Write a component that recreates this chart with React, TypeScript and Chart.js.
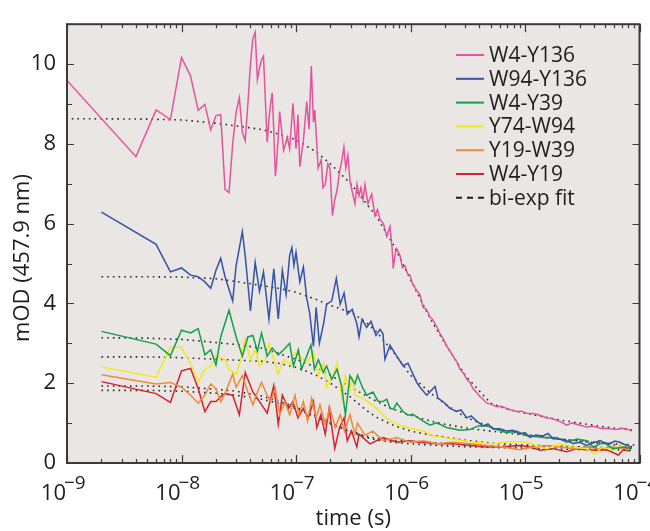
import React, { useEffect, useRef } from "react";
import { Chart, registerables } from "chart.js";

Chart.register(...registerables);

// ---------- DATA (times in ns, values in mOD) ----------
const w4y136T = [1,4,6,8,10,12,14,16,18,20,22,24,26,28,30,32,34,36,38,40,42,44,46,48,50,52,56,58,60,62,64,66,68,70,72,78,84,88,94,100,104,108,116,124,130,136,142,146,156,166,172,180,190,198,208,218,228,240,252,262,272,284,296,310,327,341,355,369,385,400,425,458,489,515,542,580,620,662,690,707,730,758,810,850,894,940,990,1040,1095,1150,1210,1290,1380,1480,1560,1640,1720,1810,1940,2070,2200,2350,2520,2710,2900,3100,3300,3520,3750,4050,4300,4630,5100,5660,6200,6920,7600,8450,9300,10350,11500,12650,14000,15500,17000,18900,21000,23100,25500,28300,31000,34600,38500,42300,47000,51700,57000,63200,70000,77300,85400];
const w4y136V = [9.59,7.68,8.85,8.61,10.17,9.7,8.84,8.99,8.35,8.71,8.73,6.86,6.78,8.0,8.8,9.16,8.29,8.08,9.0,10.0,10.64,10.8,9.61,9.9,10.1,10.2,8.04,8.6,9.0,9.28,8.3,7.19,7.6,8.2,8.81,7.84,8.16,7.88,9.02,7.88,8.73,7.43,8.08,9.06,8.37,9.95,8.54,8.85,7.39,7.6,6.9,6.98,7.5,7.39,6.2,6.6,6.83,7.3,7.6,7.92,7.4,7.71,7.07,6.8,6.5,6.98,6.7,6.9,6.6,6.98,6.5,6.74,6.2,6.35,6.1,6.0,5.68,5.93,5.4,4.88,5.2,5.37,5.2,4.9,4.95,4.75,4.71,4.5,4.39,4.3,4.22,3.9,3.85,3.66,3.6,3.49,3.38,3.24,3.1,2.93,2.82,2.68,2.55,2.35,2.25,2.1,2.02,1.86,1.78,1.66,1.6,1.5,1.47,1.41,1.42,1.37,1.33,1.29,1.3,1.25,1.24,1.22,1.18,1.13,1.12,1.07,1.02,0.95,1.0,0.97,0.94,0.9,0.92,0.9,0.86,0.87,0.85,0.84,0.87,0.86,0.8];

const w94y136T = [2,6,8,10,12,14,16,18,20,22,24,28,30,34,36,40,44,48,52,58,64,70,76,82,88,92,96,100,108,116,124,132,142,150,160,174,185,205,225,243,263,280,310,340,355,377,414,452,500,542,575,598,662,758,860,950,1133,1210,1385,1640,1740,1920,2070,2210,2530,2760,3100,3380,3790,4290,4750,5260,6050,6920,7860,9040,10000,11060,12480,14360,15900,17570,20200,23100,26300,30200,34600,39300,45200,50000,55300,61200,67600,73300,79400,85400];
const w94y136V = [6.29,5.48,4.79,4.89,4.71,4.67,4.54,4.38,4.83,5.13,4.67,4.06,4.95,5.8,5.2,3.81,5.03,4.3,4.79,3.61,4.87,3.61,4.83,4.22,5.2,5.4,4.95,5.28,4.54,4.91,4.14,3.73,2.92,3.9,3.0,3.49,3.98,4.06,4.63,3.98,4.26,3.73,3.85,3.49,3.16,3.6,3.4,3.55,3.2,3.35,3.24,2.6,2.95,2.68,2.44,2.5,2.02,1.9,1.7,1.92,1.62,1.54,1.45,1.37,1.29,1.33,1.13,1.18,1.05,0.93,0.98,0.85,0.86,0.8,0.82,0.73,0.76,0.64,0.7,0.68,0.74,0.61,0.6,0.56,0.49,0.52,0.44,0.5,0.56,0.5,0.49,0.55,0.52,0.47,0.44,0.37];

const w4y39T = [2,6,8,10,12,14,16,18,20,22,26,30,34,38,42,46,50,56,62,70,78,88,95,105,112,124,135,145,157,173,185,205,228,250,270,296,327,345,380,414,470,520,575,620,662,710,758,800,860,950,1050,1290,1480,1690,2070,2710,3310,3910,4630,5660,6920,8450,10350,12650,15500,18900,23100,28300,34600,39500,48300,59000,72000,85400];
const w4y39V = [3.3,2.98,2.69,3.33,3.26,3.37,2.71,2.84,2.46,3.16,3.83,3.16,2.68,3.16,3.2,2.8,3.26,2.68,2.88,2.71,2.84,3.0,2.43,2.84,2.35,2.68,2.96,2.35,2.59,2.27,2.43,2.1,2.35,1.94,1.21,2.19,1.98,2.2,1.9,1.7,1.78,1.55,1.54,1.6,1.37,1.35,1.5,1.42,1.29,1.2,1.22,1.05,0.95,1.01,0.89,0.82,0.84,0.93,0.93,0.84,0.76,0.8,0.68,0.66,0.63,0.64,0.52,0.6,0.56,0.4,0.52,0.36,0.4,0.36];

const y74w94T = [2,6,8,10,12,14,16,18,20,24,26,30,33,36,40,44,48,54,58,62,70,78,88,98,108,124,142,157,174,185,210,228,252,270,296,310,330,385,440,506,580,662,800,927,1290,1570,2350,3520,5260,7860,10350,13520,15500,20200,26300,34600,40900,46800,59000,72000,82700];
const y74w94V = [2.41,2.15,2.9,2.9,2.5,2.02,2.35,2.43,2.68,2.59,2.35,2.23,2.59,3.12,2.59,2.84,2.43,2.59,3.0,2.71,2.23,2.59,2.47,2.76,2.68,2.51,2.8,2.19,2.51,1.9,2.19,2.51,1.6,2.2,1.86,2.1,1.7,1.62,1.5,1.37,1.2,1.05,0.95,0.89,0.8,0.68,0.6,0.52,0.48,0.54,0.52,0.4,0.36,0.48,0.4,0.36,0.22,0.4,0.32,0.48,0.4];

const y19w39T = [2,6,8,10,12,14,16,18,20,22,24,28,30,34,38,42,46,50,56,60,66,72,80,88,98,106,116,126,137,150,162,180,198,220,243,265,296,327,345,400,470,575,758,990,1290,1690,2350,3310,4630,6420,9040,11800,15500,20200,26300,34600,45200,59000,77300,85400];
const y19w39V = [2.21,1.98,2.02,1.9,1.7,1.5,1.7,1.98,1.86,1.54,1.74,2.23,1.9,2.19,1.78,1.46,1.78,2.02,1.7,1.54,1.86,1.21,1.54,1.21,1.7,1.21,1.54,1.05,1.62,1.13,1.46,0.97,1.37,0.89,1.21,0.8,1.21,0.72,1.0,0.7,0.8,0.56,0.64,0.52,0.56,0.48,0.52,0.48,0.44,0.4,0.33,0.4,0.44,0.4,0.36,0.4,0.36,0.4,0.36,0.38];

const w4y19T = [2,6,8,10,12,14,16,18,20,22,24,28,30,32,36,42,48,56,64,70,76,86,94,104,116,128,142,152,165,180,195,218,240,263,280,305,340,355,443,575,758,990,1210,1690,2350,3310,4630,6420,9040,11060,13520,17570,23100,28300,34600,42300,51700,65300,72000,82700];
const w4y19V = [2.04,1.74,1.52,2.31,2.37,1.86,1.29,1.54,1.54,1.66,1.74,1.7,1.45,1.21,2.27,1.78,1.54,1.25,1.94,0.97,1.7,1.37,1.54,1.13,1.37,1.13,1.54,0.89,1.21,0.72,1.37,0.36,0.89,1.13,0.56,0.8,0.4,0.72,0.48,0.64,0.52,0.56,0.52,0.48,0.48,0.44,0.4,0.41,0.44,0.4,0.32,0.36,0.28,0.36,0.33,0.32,0.33,0.2,0.33,0.3];

// bi-exponential fits (ns, mOD)
const fitT = [2,5,10,20,30,50,70,100,150,200,300,400,500,700,1000,1500,2000,3000,5000,7000,10000,20000,50000,90000];
const w4y136FitT = [1.1, ...fitT];
const w4y136Fit = [8.63,8.63,8.62,8.6,8.52,8.45,8.36,8.25,8.1,7.8,7.5,7.0,6.55,6.2,5.5,4.6,3.6,3.0,2.2,1.5,1.35,1.25,1.08,0.9,0.82];
const w94y136Fit = [4.67,4.67,4.66,4.62,4.55,4.45,4.38,4.28,4.1,3.95,3.78,3.55,3.3,2.8,2.2,1.75,1.48,1.15,0.9,0.8,0.72,0.6,0.5,0.45];
const w4y39Fit = [3.14,3.13,3.1,3.02,2.97,2.88,2.75,2.6,2.4,2.2,1.9,1.7,1.55,1.35,1.2,1.05,0.97,0.88,0.8,0.75,0.7,0.6,0.48,0.4];
const y74w94Fit = [2.66,2.66,2.64,2.6,2.58,2.55,2.5,2.4,2.2,2.0,1.65,1.35,1.15,0.95,0.8,0.7,0.65,0.57,0.5,0.47,0.45,0.42,0.39,0.37];
const y19w39Fit = [1.93,1.93,1.91,1.85,1.8,1.68,1.55,1.4,1.18,1.0,0.8,0.68,0.62,0.57,0.54,0.51,0.49,0.46,0.43,0.42,0.41,0.4,0.38,0.37];
const w4y19Fit = [1.82,1.82,1.8,1.75,1.7,1.6,1.5,1.36,1.15,0.98,0.78,0.65,0.58,0.52,0.48,0.45,0.43,0.41,0.39,0.38,0.37,0.35,0.33,0.32];

const seriesLabels = ["W4-Y136", "W94-Y136", "W4-Y39", "Y74-W94", "Y19-W39", "W4-Y19"];
const fitLabel = "bi-exp fit";
const xDecades = [-9, -8, -7, -6, -5, -4];
const yMajorTicks = [0, 2, 4, 6, 8, 10];
const yMinorTicks = [1, 3, 5, 7, 9, 11];
const xTitle = "time (s)";
const yTitle = "mOD (457.9 nm)";

// ---------- STYLE ----------
const COLORS = ["#e4549e", "#3352a8", "#12a04c", "#f2e81a", "#ee8a3c", "#d42232"];
const FONT = "'Open Sans', 'DejaVu Sans', sans-serif";
const TEXT = "#1e1e1e";
const FRAME = "#3a3a3a";
const PLOT_BG = "#e9e6e3";

const toPts = (t: number[], v: number[]) => t.map((x, i) => ({ x: x * 1e-9, y: v[i] }));

export default function App() {
  const ref = useRef<HTMLCanvasElement | null>(null);

  useEffect(() => {
    if (!ref.current) return;
    const seriesData = [
      toPts(w4y136T, w4y136V),
      toPts(w94y136T, w94y136V),
      toPts(w4y39T, w4y39V),
      toPts(y74w94T, y74w94V),
      toPts(y19w39T, y19w39V),
      toPts(w4y19T, w4y19V),
    ];
    const fitData = [
      toPts(w4y136FitT, w4y136Fit),
      toPts(fitT, w94y136Fit),
      toPts(fitT, w4y39Fit),
      toPts(fitT, y74w94Fit),
      toPts(fitT, y19w39Fit),
      toPts(fitT, w4y19Fit),
    ];
    const datasets: any[] = seriesData.map((d, i) => ({
      label: seriesLabels[i],
      data: d,
      borderColor: COLORS[i],
      borderWidth: 1.5,
      pointRadius: 0,
      fill: false,
      tension: 0,
    }));
    fitData.forEach((d) =>
      datasets.push({
        label: fitLabel,
        data: d,
        borderColor: "#2a2a2a",
        borderWidth: 1.6,
        borderDash: [1.6, 4.1],
        pointRadius: 0,
        fill: false,
        tension: 0,
      })
    );

    const decorPlugin = {
      id: "decor",
      beforeDatasetsDraw(chart: any) {
        const { ctx, chartArea: a } = chart;
        ctx.save();
        ctx.fillStyle = PLOT_BG;
        ctx.fillRect(a.left, a.top, a.right - a.left, a.bottom - a.top);
        ctx.restore();
      },
      afterDatasetsDraw(chart: any) {
        const { ctx, chartArea: a, scales } = chart;
        const xs = scales.x;
        const ys = scales.y;
        ctx.save();
        ctx.strokeStyle = FRAME;
        ctx.lineWidth = 1.2;
        ctx.beginPath();
        xDecades.forEach((d) => {
          const px = Math.round(xs.getPixelForValue(Math.pow(10, d))) + 0.5;
          ctx.moveTo(px, a.bottom); ctx.lineTo(px, a.bottom - 8);
          ctx.moveTo(px, a.top); ctx.lineTo(px, a.top + 8);
          if (d < -4) {
            for (let k = 2; k <= 9; k++) {
              const mx = Math.round(xs.getPixelForValue(k * Math.pow(10, d))) + 0.5;
              ctx.moveTo(mx, a.bottom); ctx.lineTo(mx, a.bottom - 4);
              ctx.moveTo(mx, a.top); ctx.lineTo(mx, a.top + 4);
            }
          }
        });
        yMajorTicks.forEach((v) => {
          const py = Math.round(ys.getPixelForValue(v)) + 0.5;
          ctx.moveTo(a.left, py); ctx.lineTo(a.left + 7, py);
          ctx.moveTo(a.right, py); ctx.lineTo(a.right - 7, py);
        });
        yMinorTicks.forEach((v) => {
          const py = Math.round(ys.getPixelForValue(v)) + 0.5;
          ctx.moveTo(a.left, py); ctx.lineTo(a.left + 5, py);
          ctx.moveTo(a.right, py); ctx.lineTo(a.right - 5, py);
        });
        ctx.stroke();
        ctx.lineWidth = 2;
        ctx.strokeRect(a.left, a.top, a.right - a.left, a.bottom - a.top);
        ctx.restore();
      },
      afterDraw(chart: any) {
        const { ctx, chartArea: a, scales } = chart;
        const xs = scales.x;
        ctx.save();
        ctx.fillStyle = TEXT;
        // x tick labels 10^n : "10" ends just left of the tick, exponent follows
        xDecades.forEach((d) => {
          const px = xs.getPixelForValue(Math.pow(10, d));
          const base = "10";
          const exp = "\u2212" + String(-d);
          ctx.textAlign = "right";
          ctx.textBaseline = "alphabetic";
          ctx.font = `22px ${FONT}`;
          ctx.fillText(base, px - 1, 500);
          ctx.textAlign = "left";
          ctx.font = `19px ${FONT}`;
          ctx.fillText(exp, px - 3, 489);
        });
        ctx.font = `22px ${FONT}`;
        ctx.textAlign = "center";
        ctx.textBaseline = "alphabetic";
        ctx.fillText(xTitle, (a.left + a.right) / 2, 525);
        ctx.save();
        ctx.translate(23, 258);
        ctx.rotate(-Math.PI / 2);
        ctx.textBaseline = "middle";
        ctx.fillText(yTitle, 0, 0);
        ctx.restore();
        // legend
        const rowY0 = 55;
        const rowStep = 23.8;
        ctx.font = `21px ${FONT}`;
        ctx.textAlign = "left";
        ctx.textBaseline = "middle";
        const all = [...seriesLabels, fitLabel];
        all.forEach((lab, i) => {
          const y = rowY0 + i * rowStep;
          ctx.beginPath();
          ctx.lineWidth = 2;
          if (i < seriesLabels.length) {
            ctx.strokeStyle = COLORS[i];
            ctx.setLineDash([]);
          } else {
            ctx.strokeStyle = "#1e1e1e";
            ctx.setLineDash([6, 5]);
          }
          ctx.moveTo(456, y);
          ctx.lineTo(484, y);
          ctx.stroke();
          ctx.setLineDash([]);
          ctx.fillStyle = TEXT;
          ctx.fillText(lab, 489, y + 1);
        });
        ctx.restore();
      },
    };

    const chart = new Chart(ref.current, {
      type: "line",
      data: { datasets },
      options: {
        animation: false,
        responsive: false,
        devicePixelRatio: 1,
        events: [],
        layout: { padding: { top: 12, right: 10.5, left: 0, bottom: 0 } },
        plugins: { legend: { display: false }, tooltip: { enabled: false } },
        scales: {
          x: {
            type: "logarithmic",
            min: 1e-9,
            max: 1e-4,
            grid: { display: false, drawTicks: false },
            border: { display: false },
            ticks: { display: false },
            afterFit: (s: any) => { s.height = 68; },
          },
          y: {
            type: "linear",
            min: 0,
            max: 11,
            grid: { display: false, drawTicks: false },
            border: { display: false },
            afterBuildTicks: (s: any) => { s.ticks = yMajorTicks.map((v) => ({ value: v })); },
            ticks: {
              padding: 11,
              color: TEXT,
              font: { size: 22, family: FONT },
              callback: (v: any) => String(v),
            },
            afterFit: (s: any) => { s.width = 67; },
          },
        },
      },
      plugins: [decorPlugin],
    } as any);
    return () => chart.destroy();
  }, []);

  return (
    <div style={{ position: "fixed", left: 0, top: 0, width: 650, height: 531, background: "#fff" }}>
      <canvas ref={ref} width={650} height={531} style={{ display: "block", width: 650, height: 531 }} />
    </div>
  );
}
